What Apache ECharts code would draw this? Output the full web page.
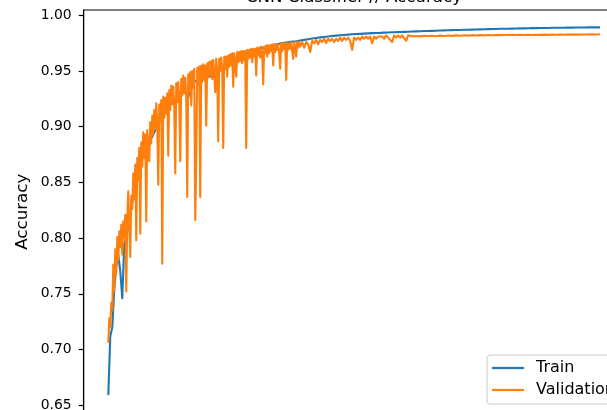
<!DOCTYPE html>
<html>
<head>
<meta charset="utf-8">
<script src="https://cdn.jsdelivr.net/npm/echarts@6/dist/echarts.min.js"></script>
<style>
  html, body { margin: 0; padding: 0; background: #fff; overflow: hidden; }
  #frame { width: 607px; height: 410px; overflow: hidden; position: relative; }
  #chart { width: 640px; height: 430px; position: absolute; left: 0; top: 0; }
</style>
</head>
<body>
<div id="frame"><div id="chart"></div></div>
<script>
// Training history of the CNN classifier.
// Train accuracy is logged every 2 epochs over epochs 0..492.
const trainAcc = [
  0.659, 0.712, 0.720, 0.755, 0.775, 0.785, 0.770, 0.746, 0.795, 0.800,
  0.812, 0.822, 0.832, 0.842, 0.850, 0.858, 0.865, 0.872, 0.878, 0.883,
  0.887, 0.886, 0.891, 0.895, 0.899, 0.903, 0.906, 0.909, 0.912, 0.915,
  0.917, 0.920, 0.922, 0.924, 0.926, 0.928, 0.930, 0.931, 0.933, 0.934,
  0.926, 0.937, 0.938, 0.940, 0.941, 0.942, 0.943, 0.944, 0.945, 0.946,
  0.947, 0.945, 0.949, 0.950, 0.951, 0.952, 0.953, 0.954, 0.955, 0.956,
  0.958, 0.959, 0.960, 0.961, 0.962, 0.963, 0.9638, 0.9645, 0.9652, 0.966,
  0.9667, 0.9674, 0.968, 0.9686, 0.9692, 0.9697, 0.9702, 0.9707, 0.9712, 0.9717,
  0.9722, 0.9727, 0.9731, 0.9735, 0.9739, 0.9743, 0.9747, 0.975, 0.9753, 0.9756,
  0.9759, 0.9762, 0.9764, 0.9766, 0.9768, 0.977, 0.9774, 0.9777, 0.978, 0.9783,
  0.9786, 0.9789, 0.9792, 0.9795, 0.9797, 0.980, 0.9802, 0.9804, 0.9806, 0.9808,
  0.981, 0.9812, 0.9814, 0.9816, 0.9818, 0.982, 0.9821, 0.9823, 0.9824, 0.9826,
  0.9827, 0.9828, 0.983, 0.9831, 0.9832, 0.9833, 0.9834, 0.9835, 0.9836, 0.9837,
  0.9838, 0.9839, 0.984, 0.9841, 0.9842, 0.9843, 0.9843, 0.9844, 0.9845, 0.9846,
  0.9846, 0.9847, 0.9848, 0.9849, 0.9849, 0.985, 0.9851, 0.9851, 0.9852, 0.9853,
  0.9853, 0.9854, 0.9855, 0.9855, 0.9856, 0.9857, 0.9857, 0.9858, 0.9859, 0.9859,
  0.986, 0.9861, 0.9861, 0.9862, 0.9862, 0.9863, 0.9864, 0.9864, 0.9865, 0.9865,
  0.9866, 0.9867, 0.9867, 0.9868, 0.9868, 0.9869, 0.9869, 0.987, 0.987, 0.9871,
  0.9871, 0.9872, 0.9872, 0.9873, 0.9873, 0.9874, 0.9874, 0.9875, 0.9875, 0.9876,
  0.9876, 0.9877, 0.9877, 0.9878, 0.9878, 0.9878, 0.9879, 0.9879, 0.988, 0.988,
  0.988, 0.9881, 0.9881, 0.9882, 0.9882, 0.9882, 0.9883, 0.9883, 0.9883, 0.9884,
  0.9884, 0.9884, 0.9885, 0.9885, 0.9885, 0.9886, 0.9886, 0.9886, 0.9887, 0.9887,
  0.9887, 0.9888, 0.9888, 0.9888, 0.9888, 0.9889, 0.9889, 0.9889, 0.9889, 0.989,
  0.989, 0.989, 0.989, 0.989, 0.9891, 0.9891, 0.9891, 0.9891, 0.9891, 0.9891,
  0.9892, 0.9892, 0.9892, 0.9892, 0.9892, 0.9892, 0.9892
];

// Validation accuracy: every epoch for epochs 0..191, then every 2 epochs up to 492.
const valAcc = [
  // epochs 0..191
  0.706, 0.728, 0.720, 0.742, 0.735, 0.776, 0.752, 0.790, 0.768, 0.801,
  0.780, 0.806, 0.792, 0.812, 0.785, 0.815, 0.800, 0.821, 0.752, 0.818,
  0.842, 0.812, 0.783, 0.838, 0.826, 0.858, 0.835, 0.866, 0.798, 0.872,
  0.852, 0.881, 0.804, 0.886, 0.864, 0.895, 0.872, 0.893, 0.815, 0.897,
  0.880, 0.869, 0.904, 0.885, 0.910, 0.893, 0.915, 0.898, 0.921, 0.902,
  0.848, 0.920, 0.905, 0.924, 0.777, 0.927, 0.908, 0.926, 0.912, 0.930,
  0.874, 0.933, 0.915, 0.937, 0.920, 0.936, 0.918, 0.858, 0.939, 0.922,
  0.940, 0.925, 0.869, 0.943, 0.928, 0.946, 0.930, 0.944, 0.926, 0.837,
  0.947, 0.932, 0.949, 0.919, 0.950, 0.935, 0.952, 0.816, 0.867, 0.953,
  0.938, 0.954, 0.837, 0.955, 0.940, 0.956, 0.942, 0.955, 0.901, 0.957,
  0.944, 0.958, 0.946, 0.959, 0.943, 0.960, 0.948, 0.931, 0.961, 0.949,
  0.887, 0.961, 0.950, 0.962, 0.951, 0.881, 0.963, 0.952, 0.963, 0.945,
  0.964, 0.954, 0.965, 0.955, 0.966, 0.936, 0.966, 0.956, 0.945, 0.967,
  0.958, 0.967, 0.959, 0.968, 0.957, 0.968, 0.960, 0.968, 0.881, 0.969,
  0.961, 0.969, 0.962, 0.970, 0.958, 0.970, 0.963, 0.970, 0.946, 0.971,
  0.964, 0.971, 0.962, 0.972, 0.965, 0.938, 0.972, 0.966, 0.973, 0.963,
  0.973, 0.966, 0.973, 0.968, 0.974, 0.955, 0.974, 0.967, 0.974, 0.969,
  0.974, 0.966, 0.952, 0.975, 0.968, 0.975, 0.970, 0.975, 0.942, 0.975,
  0.969, 0.975, 0.970, 0.976, 0.968, 0.961, 0.976, 0.971, 0.963, 0.976,
  0.971, 0.976,
  // epochs 192..492, every 2 epochs
  0.972, 0.976, 0.971, 0.976,
  0.974, 0.967, 0.977, 0.975, 0.978, 0.974, 0.978, 0.976, 0.979, 0.975,
  0.979, 0.977, 0.979, 0.976, 0.979, 0.977, 0.980, 0.977, 0.980, 0.978,
  0.980, 0.977, 0.969, 0.980, 0.978, 0.980, 0.978, 0.981, 0.979, 0.981,
  0.979, 0.981, 0.975, 0.981, 0.979, 0.981, 0.980, 0.981, 0.979, 0.982,
  0.980, 0.981, 0.976, 0.982, 0.980, 0.982, 0.980, 0.982, 0.981, 0.977,
  0.982,
  0.9818, 0.9812, 0.9822, 0.9815, 0.9820, 0.9811, 0.9823, 0.9816, 0.9821, 0.9814,
  0.9824, 0.9817, 0.9821, 0.9813, 0.9825, 0.9818, 0.9822, 0.9815, 0.9826, 0.9819,
  0.9823, 0.9816, 0.9826, 0.9820, 0.9824, 0.9817, 0.9827, 0.9821, 0.9825, 0.9818,
  0.9827, 0.9822, 0.9826, 0.9819, 0.9828, 0.9822, 0.9826, 0.9820, 0.9829, 0.9823,
  0.9827, 0.9821, 0.9829, 0.9824, 0.9828, 0.9822, 0.9830, 0.9824, 0.9828, 0.9823,
  0.9830, 0.9825, 0.9829, 0.9823, 0.9831, 0.9825, 0.9829, 0.9824, 0.9831, 0.9826,
  0.9830, 0.9824, 0.9832, 0.9826, 0.9830, 0.9825, 0.9832, 0.9827, 0.9831, 0.9825,
  0.9832, 0.9827, 0.9831, 0.9826, 0.9833, 0.9827, 0.9831, 0.9826, 0.9833, 0.9828,
  0.9832, 0.9827, 0.9833, 0.9828, 0.9832, 0.9827, 0.9834, 0.9828, 0.9832, 0.9828,
  0.9834, 0.9829, 0.9833, 0.9828, 0.9834, 0.9830
];

const yTicks = [0.65, 0.70, 0.75, 0.80, 0.85, 0.90, 0.95, 1.00];
const seriesNames = ['Train', 'Validation'];
const titleText = 'CNN Classifier // Accuracy';
const yLabel = 'Accuracy';

// Epoch numbers at which each series was logged.
const lastEpoch = 492;
const denseUntil = 192;
const trainEpochs = trainAcc.map((_, i) => i * 2);
const valEpochs = [];
for (let e = 0; e < denseUntil; e++) valEpochs.push(e);
for (let e = denseUntil; e <= lastEpoch; e += 2) valEpochs.push(e);

const pad = lastEpoch * 0.05;

const chart = echarts.init(document.getElementById('chart'), null, { renderer: 'canvas' });
const font = 'DejaVu Sans';

chart.setOption({
  animation: false,
  backgroundColor: '#ffffff',
  grid: {
    left: 83.7, top: 10, right: 15.4, bottom: 16.5,
    show: true, borderColor: '#000000', borderWidth: 1.1,
    backgroundColor: 'transparent', containLabel: false
  },
  xAxis: {
    type: 'value',
    min: -pad, max: lastEpoch + pad,
    axisLine: { show: false, onZero: false }, axisTick: { show: false },
    axisLabel: { show: false }, splitLine: { show: false }
  },
  yAxis: {
    type: 'value',
    min: 0.6425, max: 1.0048,
    axisLine: { show: true, onZero: false, lineStyle: { color: '#000000', width: 1.1 } },
    splitLine: { show: false },
    axisTick: {
      show: true, length: 5, inside: false,
      customValues: yTicks,
      lineStyle: { color: '#000000', width: 1.2 }
    },
    axisLabel: {
      show: true, margin: 12,
      customValues: yTicks,
      formatter: v => v.toFixed(2),
      color: '#000000', fontFamily: font, fontSize: 13.9
    }
  },
  legend: {
    orient: 'vertical',
    left: 487, top: 355,
    data: seriesNames,
    icon: 'rect',
    itemWidth: 32, itemHeight: 2.2,
    itemGap: 6,
    padding: [5, 10, 6, 5],
    borderColor: '#cccccc', borderWidth: 1, borderRadius: 3,
    backgroundColor: 'rgba(255,255,255,0.8)',
    textStyle: {
      fontFamily: font, fontSize: 16, color: '#000000',
      lineHeight: 16, padding: [0, 0, 0, 7]
    }
  },
  graphic: [
    {
      type: 'text', x: 354, y: -2.5, silent: true,
      style: {
        text: titleText, fill: '#000000',
        font: '16.7px "DejaVu Sans"',
        textAlign: 'center', textVerticalAlign: 'middle'
      }
    },
    {
      type: 'text', x: 23, y: 211.7, rotation: Math.PI / 2, silent: true,
      style: {
        text: yLabel, fill: '#000000',
        font: '16.7px "DejaVu Sans"',
        textAlign: 'center', textVerticalAlign: 'middle'
      }
    }
  ],
  series: [
    {
      name: seriesNames[0], type: 'line',
      data: trainEpochs.map((e, i) => [e, trainAcc[i]]),
      showSymbol: false, symbol: 'none',
      color: '#1f77b4',
      lineStyle: { color: '#1f77b4', width: 2.1, join: 'round' },
      clip: true
    },
    {
      name: seriesNames[1], type: 'line',
      data: valEpochs.map((e, i) => [e, valAcc[i]]),
      showSymbol: false, symbol: 'none',
      color: '#ff7f0e',
      lineStyle: { color: '#ff7f0e', width: 2.1, join: 'round' },
      clip: true
    }
  ]
});
</script>
</body>
</html>
